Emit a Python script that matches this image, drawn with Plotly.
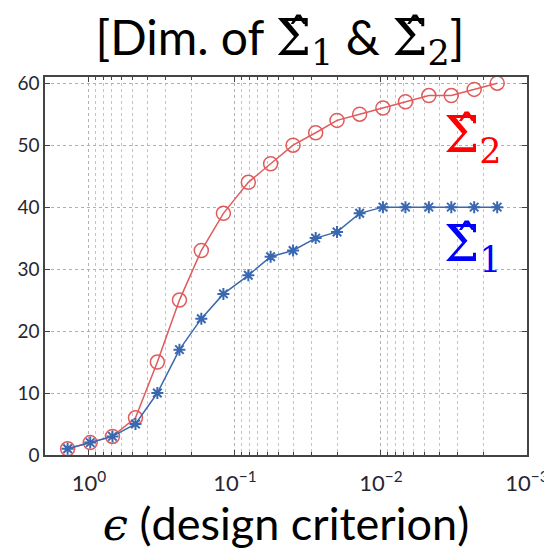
import plotly.graph_objects as go

# data
epsilon = [1.4, 0.98, 0.69, 0.48, 0.34, 0.24, 0.17, 0.12, 0.081, 0.057,
           0.040, 0.028, 0.020, 0.014, 0.0097, 0.0068, 0.0047, 0.0033, 0.0023, 0.0016]
dim_sigma1 = [1, 2, 3, 5, 10, 17, 22, 26, 29, 32, 33, 35, 36, 39, 40, 40, 40, 40, 40, 40]
dim_sigma2 = [1, 2, 3, 6, 15, 25, 33, 39, 44, 47, 50, 52, 54, 55, 56, 57, 58, 58, 59, 60]

x_tickvals = [1, 0.1, 0.01, 0.001]
x_ticktext = ["10<sup>0</sup>", "10<sup>\u22121</sup>", "10<sup>\u22122</sup>", "10<sup>\u22123</sup>"]
y_tickvals = [0, 10, 20, 30, 40, 50, 60]

minor_vals = [m * 10.0 ** k for k in range(-3, 1) for m in range(2, 10)]

RED = "#e05c5c"
BLUE = "#3a68b0"
SERIF = "DejaVu Serif"

fig = go.Figure()
fig.add_trace(go.Scatter(
    x=epsilon, y=dim_sigma2, mode="lines+markers",
    line=dict(color=RED, width=1.5),
    marker=dict(symbol="circle-open", size=14, color=RED, line=dict(width=1.5, color=RED)),
    showlegend=False))
fig.add_trace(go.Scatter(
    x=epsilon, y=dim_sigma1, mode="lines+markers",
    line=dict(color=BLUE, width=1.5),
    marker=dict(symbol="asterisk-open", size=10, color=BLUE, line=dict(width=2, color=BLUE)),
    showlegend=False))

grid = dict(showgrid=True, gridcolor="#b0b0b0", griddash="dot", gridwidth=1)

fig.update_xaxes(
    type="log", range=[0.301, -3], automargin=False,
    tickmode="array", tickvals=x_tickvals, ticktext=x_ticktext,
    ticks="inside", ticklen=5, tickcolor="#444", ticklabelstandoff=8,
    ticklabeloverflow="allow",
    showline=True, linecolor="#444", linewidth=1.5, mirror="ticks",
    zeroline=False,
    minor=dict(tickmode="array", tickvals=minor_vals, ticks="inside", ticklen=3,
               tickcolor="#444", showgrid=True, gridcolor="#c4c4c4", griddash="dot"),
    tickfont=dict(family="Lato", size=22, color="#262630"),
    title=dict(text="<span style='font-family:DejaVu Serif;font-style:italic'>\u03f5</span> (design criterion)",
               font=dict(family="Lato", size=45, color="#000"), standoff=13),
    **grid)
fig.update_yaxes(
    range=[0, 61], tickmode="array", tickvals=y_tickvals, automargin=False,
    ticks="inside", ticklen=5, tickcolor="#444",
    showline=True, linecolor="#444", linewidth=1.5, mirror="ticks",
    zeroline=False,
    tickfont=dict(family="Lato", size=19, color="#262630"),
    **grid)

fig.update_layout(
    width=544, height=544,
    margin=dict(l=37, r=25, t=69, b=97),
    paper_bgcolor="white", plot_bgcolor="white",
    title=dict(
        text="[Dim. of <span style='font-family:DejaVu Serif;font-size:50px'>\u03a3\u0302<sub>1</sub></span> &amp; "
             "<span style='font-family:DejaVu Serif;font-size:50px'>\u03a3\u0302<sub>2</sub></span>]",
        x=0.5, xanchor="center", y=0.945, yanchor="middle",
        font=dict(family="Lato", size=48, color="#000")),
    annotations=[
        dict(x=0.824, y=0.929, xref="paper", yref="paper", xanchor="left",
             text="\u03a3\u0302<sub>2</sub>", showarrow=False,
             font=dict(family=SERIF, size=50, color="#ff0000")),
        dict(x=0.824, y=0.548, xref="paper", yref="paper", xanchor="left",
             text="\u03a3\u0302<sub>1</sub>", showarrow=False,
             font=dict(family=SERIF, size=50, color="#0000ff")),
    ],
)

fig.write_html("out.html")
